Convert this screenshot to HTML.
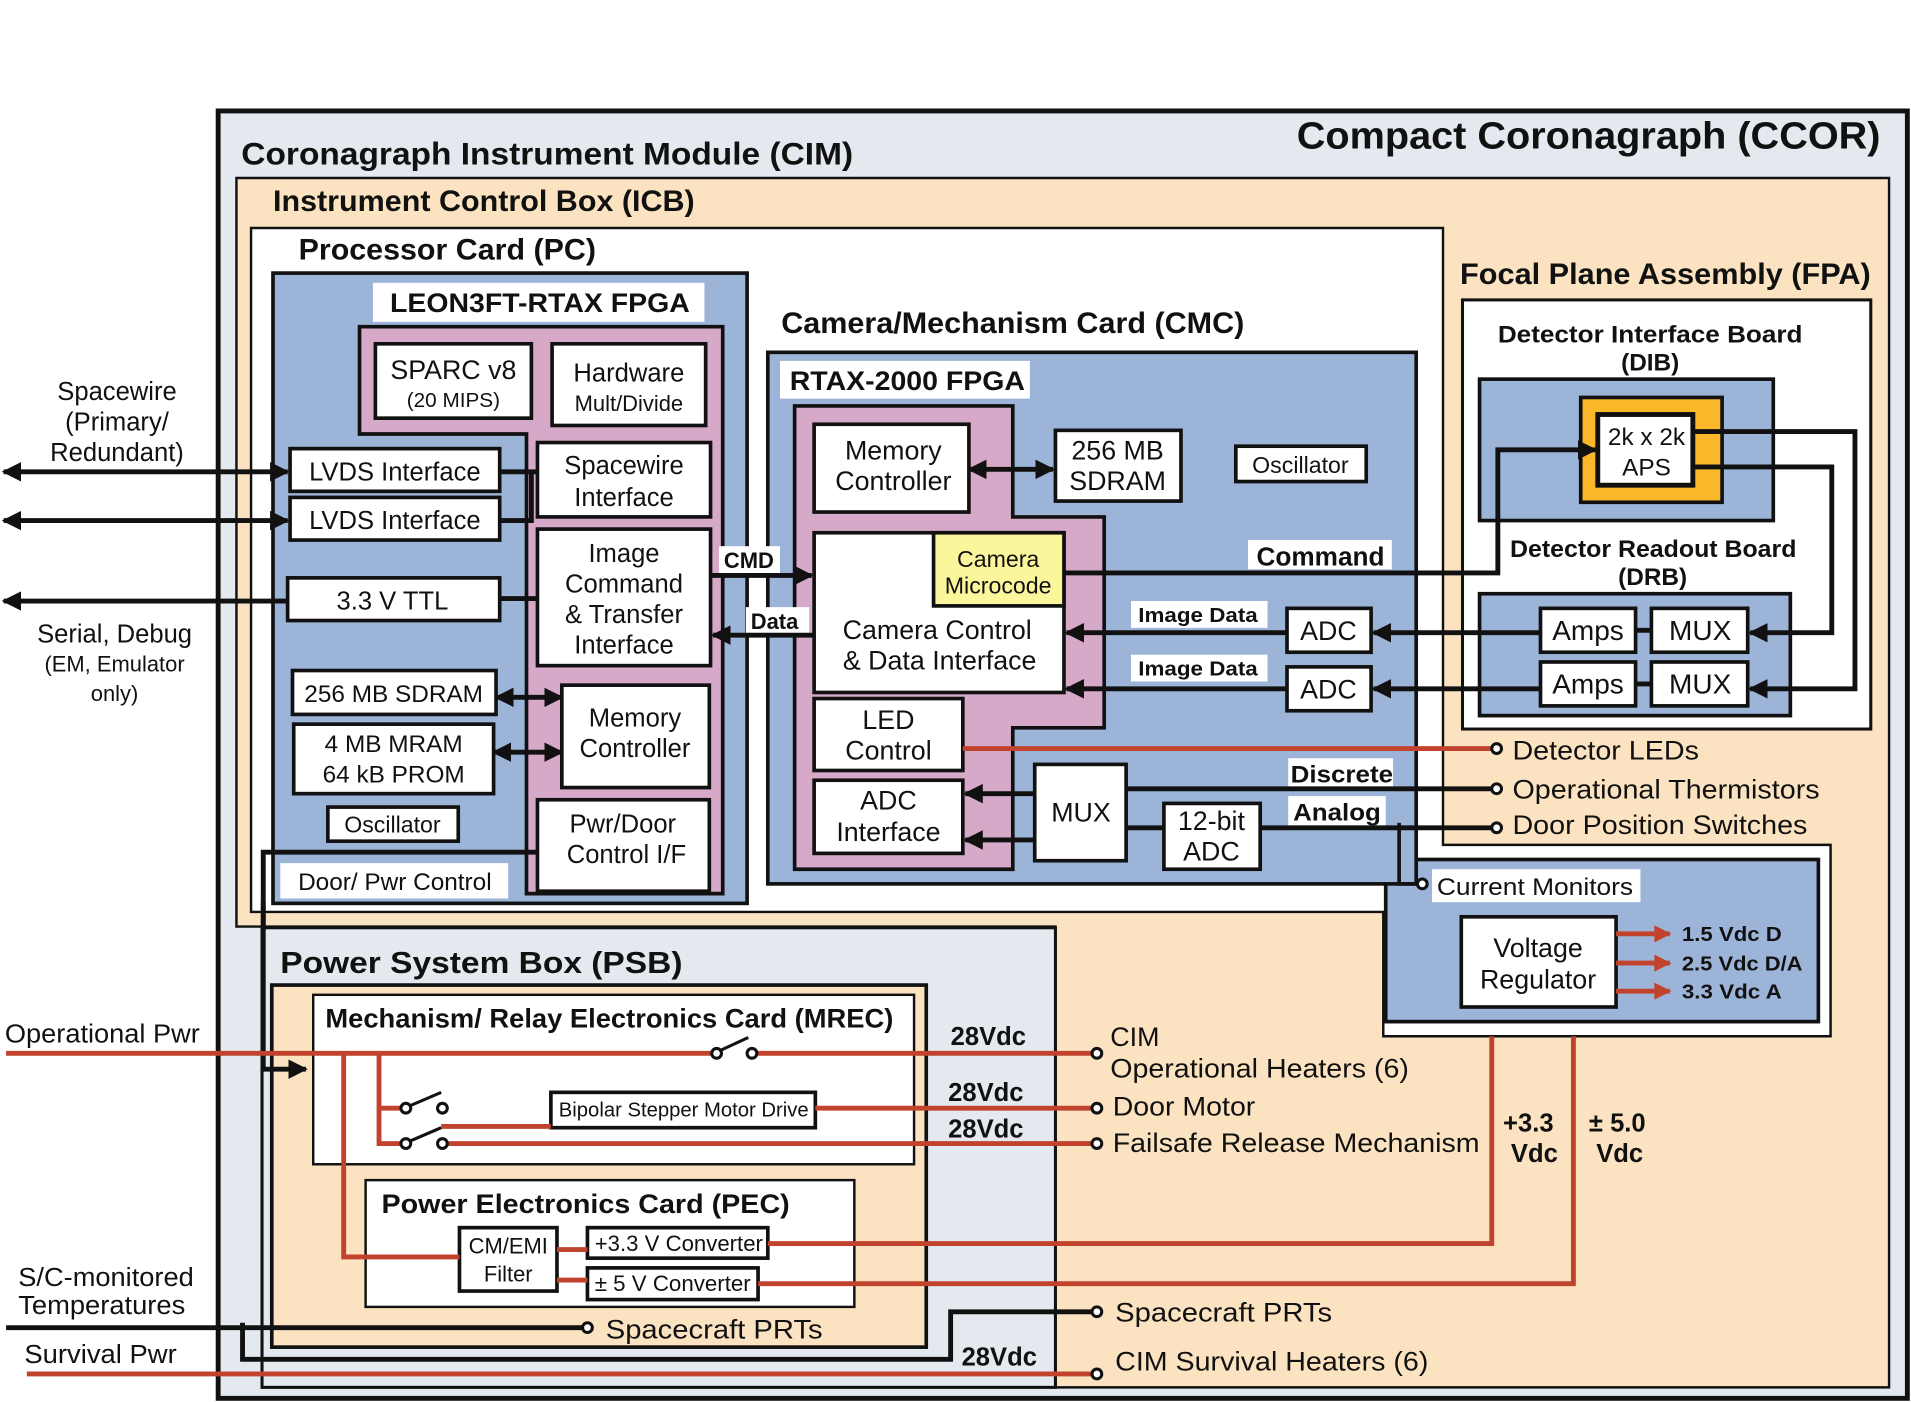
<!DOCTYPE html>
<html><head><meta charset="utf-8"><style>
html,body{margin:0;padding:0;background:#fff}
svg{display:block}
text{font-family:"Liberation Sans",sans-serif;fill:#111}
.b{font-weight:bold}
</style></head><body>
<svg width="1911" height="1402" viewBox="0 0 1568 1150" preserveAspectRatio="none" xmlns="http://www.w3.org/2000/svg">
<defs>
<marker id="ab" viewBox="0 0 10 10" refX="9" refY="5" markerWidth="4" markerHeight="4" orient="auto-start-reverse"><path d="M0,0 L10,5 L0,10 z" fill="#111"/></marker>
<marker id="ar" viewBox="0 0 10 10" refX="9" refY="5" markerWidth="4.5" markerHeight="3.5" orient="auto"><path d="M0,0 L10,5 L0,10 z" fill="#c1432e"/></marker>
</defs>
<rect width="1568" height="1150" fill="#fff"/>
<rect x="179" y="91" width="1386" height="1056" fill="#e3e9ef" stroke="#111" stroke-width="4"/>
<text x="1064" y="122" class="b" font-size="31" textLength="479" lengthAdjust="spacingAndGlyphs">Compact Coronagraph (CCOR)</text>
<text x="198" y="135" class="b" font-size="26" textLength="502" lengthAdjust="spacingAndGlyphs">Coronagraph Instrument Module (CIM)</text>
<polygon points="194,146 1550,146 1550,1138 866,1138 866,760 194,760" fill="#fbe3c1" stroke="#111" stroke-width="2"/>
<text x="224" y="173" class="b" font-size="24" textLength="346" lengthAdjust="spacingAndGlyphs">Instrument Control Box (ICB)</text>
<polygon points="206,187 1184,187 1184,693 1502,693 1502,850 1135,850 1135,748 206,748" fill="#fff" stroke="#111" stroke-width="2"/>
<text x="245" y="213" class="b" font-size="24" textLength="244" lengthAdjust="spacingAndGlyphs">Processor Card (PC)</text>
<text x="641" y="273" class="b" font-size="24" textLength="380" lengthAdjust="spacingAndGlyphs">Camera/Mechanism Card (CMC)</text>
<text x="1198" y="233" class="b" font-size="24" textLength="337" lengthAdjust="spacingAndGlyphs">Focal Plane Assembly (FPA)</text>
<rect x="1200" y="246" width="335" height="352" fill="#fff" stroke="#111" stroke-width="2.5"/>
<text x="1229" y="281" class="b" font-size="20" textLength="250" lengthAdjust="spacingAndGlyphs">Detector Interface Board</text>
<text x="1354" y="304" text-anchor="middle" class="b" font-size="20">(DIB)</text>
<rect x="1214" y="311" width="241" height="116" fill="#9db4d9" stroke="#111" stroke-width="3"/>
<rect x="1297" y="326" width="116" height="86" fill="#f8b82a" stroke="#111" stroke-width="3"/>
<rect x="1311" y="340" width="78" height="58" fill="#fff" stroke="#111" stroke-width="4"/>
<text x="1351" y="365" text-anchor="middle" font-size="20">2k x 2k</text>
<text x="1351" y="390" text-anchor="middle" font-size="20">APS</text>
<text x="1239" y="457" class="b" font-size="20" textLength="235" lengthAdjust="spacingAndGlyphs">Detector Readout Board</text>
<text x="1356" y="480" text-anchor="middle" class="b" font-size="20">(DRB)</text>
<rect x="1214" y="487" width="255" height="100" fill="#9db4d9" stroke="#111" stroke-width="3"/>
<g fill="#fff" stroke="#111" stroke-width="3">
<rect x="1264" y="499" width="78" height="36"/><rect x="1264" y="543" width="78" height="36"/>
<rect x="1355" y="499" width="79" height="36"/><rect x="1355" y="543" width="79" height="36"/>
</g>
<g font-size="23" text-anchor="middle"><text x="1303" y="525">Amps</text><text x="1303" y="569">Amps</text><text x="1395" y="525">MUX</text><text x="1395" y="569">MUX</text></g>
<rect x="1137" y="705" width="355" height="133" fill="#9db4d9" stroke="#111" stroke-width="3"/>
<rect x="1199" y="752" width="127" height="74" fill="#fff" stroke="#111" stroke-width="3"/>
<text x="1262" y="785" text-anchor="middle" font-size="22">Voltage</text>
<text x="1262" y="811" text-anchor="middle" font-size="22">Regulator</text>
<g stroke="#c1432e" stroke-width="4"><line x1="1326" y1="766" x2="1370" y2="766" marker-end="url(#ar)"/><line x1="1326" y1="790" x2="1370" y2="790" marker-end="url(#ar)"/><line x1="1326" y1="813" x2="1370" y2="813" marker-end="url(#ar)"/></g>
<g class="b" font-size="17"><text x="1380" y="772" textLength="82" lengthAdjust="spacingAndGlyphs">1.5 Vdc D</text><text x="1380" y="796" textLength="99" lengthAdjust="spacingAndGlyphs">2.5 Vdc D/A</text><text x="1380" y="819" textLength="82" lengthAdjust="spacingAndGlyphs">3.3 Vdc A</text></g>
<rect x="1175" y="713" width="171" height="27" fill="#fff"/>
<text x="1179" y="734" font-size="20" textLength="161" lengthAdjust="spacingAndGlyphs">Current Monitors</text>
<rect x="224" y="224" width="389" height="517" fill="#9db4d9" stroke="#111" stroke-width="3"/>
<rect x="306" y="232" width="272" height="32" fill="#fff"/>
<text x="320" y="256" class="b" font-size="22" textLength="246" lengthAdjust="spacingAndGlyphs">LEON3FT-RTAX FPGA</text>
<polygon points="295,268 593,268 593,733 432,733 432,356 295,356" fill="#d7a9c9" stroke="#111" stroke-width="3"/>
<g fill="#fff" stroke="#111" stroke-width="3">
<rect x="308" y="282" width="128" height="61"/><rect x="453" y="282" width="126" height="67"/>
<rect x="238" y="368" width="172" height="35"/><rect x="238" y="408" width="172" height="35"/>
<rect x="441" y="363" width="142" height="61"/><rect x="441" y="434" width="142" height="112"/>
<rect x="236" y="474" width="174" height="35"/>
<rect x="240" y="550" width="167" height="36"/><rect x="241" y="594" width="164" height="57"/>
<rect x="461" y="562" width="121" height="84"/>
<rect x="269" y="662" width="107" height="28"/>
<rect x="441" y="656" width="141" height="75"/>
</g>
<rect x="230" y="708" width="187" height="29" fill="#fff"/>
<g font-size="21" text-anchor="middle">
<text x="372" y="311" font-size="22">SPARC v8</text><text x="372" y="334" font-size="17">(20 MIPS)</text>
<text x="516" y="313">Hardware</text><text x="516" y="337" font-size="18">Mult/Divide</text>
<text x="324" y="394">LVDS Interface</text><text x="324" y="434">LVDS Interface</text>
<text x="512" y="389">Spacewire</text><text x="512" y="415">Interface</text>
<text x="512" y="461">Image</text><text x="512" y="486">Command</text><text x="512" y="511">&amp; Transfer</text><text x="512" y="536">Interface</text>
<text x="322" y="500">3.3 V TTL</text>
<text x="323" y="576" font-size="20">256 MB SDRAM</text>
<text x="323" y="617" font-size="20">4 MB MRAM</text><text x="323" y="642" font-size="20">64 kB PROM</text>
<text x="521" y="596">Memory</text><text x="521" y="621">Controller</text>
<text x="322" y="683" font-size="19">Oscillator</text>
<text x="511" y="683">Pwr/Door</text><text x="514" y="708">Control I/F</text>
<text x="324" y="730" font-size="20">Door/ Pwr Control</text>
</g>
<rect x="630" y="289" width="532" height="436" fill="#9db4d9" stroke="#111" stroke-width="3"/>
<rect x="640" y="296" width="205" height="31" fill="#fff"/>
<text x="648" y="320" class="b" font-size="22" textLength="193" lengthAdjust="spacingAndGlyphs">RTAX-2000 FPGA</text>
<polygon points="652,333 831,333 831,424 906,424 906,597 831,597 831,713 652,713" fill="#d7a9c9" stroke="#111" stroke-width="3"/>
<g fill="#fff" stroke="#111" stroke-width="3">
<rect x="668" y="348" width="127" height="72"/><rect x="866" y="353" width="103" height="58"/>
<rect x="1014" y="366" width="107" height="29"/>
<rect x="668" y="437" width="205" height="131"/>
<rect x="766" y="437" width="107" height="60" fill="#fbf59b"/>
<rect x="668" y="573" width="122" height="59"/><rect x="668" y="640" width="122" height="60"/>
<rect x="849" y="627" width="75" height="79"/><rect x="955" y="659" width="79" height="54"/>
<rect x="1056" y="499" width="69" height="36"/><rect x="1056" y="547" width="69" height="36"/>
</g>
<g font-size="22" text-anchor="middle">
<text x="733" y="377">Memory</text><text x="733" y="402">Controller</text>
<text x="917" y="377">256 MB</text><text x="917" y="402">SDRAM</text>
<text x="1067" y="388" font-size="19">Oscillator</text>
<text x="819" y="465" font-size="19">Camera</text><text x="819" y="487" font-size="19">Microcode</text>
<text x="769" y="524">Camera Control</text><text x="771" y="549">&amp; Data Interface</text>
<text x="729" y="598">LED</text><text x="729" y="623">Control</text>
<text x="729" y="664">ADC</text><text x="729" y="690">Interface</text>
<text x="887" y="674">MUX</text>
<text x="994" y="681">12-bit</text><text x="994" y="706">ADC</text>
<text x="1090" y="525">ADC</text><text x="1090" y="573">ADC</text>
</g>
<g fill="#fff"><rect x="1024" y="443" width="118" height="24"/><rect x="928" y="493" width="112" height="22"/><rect x="928" y="537" width="112" height="22"/><rect x="1057" y="622" width="86" height="23"/><rect x="1057" y="653" width="80" height="24"/><rect x="590" y="448" width="50" height="22"/><rect x="612" y="498" width="52" height="22"/></g>
<g class="b"><text x="1031" y="464" font-size="21" textLength="105" lengthAdjust="spacingAndGlyphs">Command</text><text x="934" y="510" font-size="17" textLength="98" lengthAdjust="spacingAndGlyphs">Image Data</text><text x="934" y="554" font-size="17" textLength="98" lengthAdjust="spacingAndGlyphs">Image Data</text><text x="1059" y="642" font-size="20" textLength="84" lengthAdjust="spacingAndGlyphs">Discrete</text><text x="1061" y="673" font-size="20" textLength="72" lengthAdjust="spacingAndGlyphs">Analog</text><text x="594" y="466" font-size="18">CMD</text><text x="616" y="516" font-size="18">Data</text></g>
<g stroke="#111" stroke-width="4" fill="none">
<line x1="3" y1="387" x2="236" y2="387" marker-start="url(#ab)" marker-end="url(#ab)"/>
<line x1="3" y1="427" x2="236" y2="427" marker-start="url(#ab)" marker-end="url(#ab)"/>
<line x1="236" y1="493" x2="3" y2="493" marker-end="url(#ab)"/>
<line x1="410" y1="387" x2="441" y2="387"/><polyline points="410,427 436,427 436,387"/>
<line x1="410" y1="491" x2="441" y2="491"/>
<line x1="407" y1="572" x2="461" y2="572" marker-start="url(#ab)" marker-end="url(#ab)"/>
<line x1="405" y1="617" x2="461" y2="617" marker-start="url(#ab)" marker-end="url(#ab)"/>
<line x1="583" y1="472" x2="666" y2="472" marker-end="url(#ab)"/>
<line x1="668" y1="521" x2="585" y2="521" marker-end="url(#ab)"/>
<line x1="795" y1="385" x2="864" y2="385" marker-start="url(#ab)" marker-end="url(#ab)"/>
<polyline points="873,470 1229,470 1229,369 1309,369" marker-end="url(#ab)"/>
<polyline points="1389,354 1522,354 1522,565 1436,565" marker-end="url(#ab)"/>
<polyline points="1389,383 1503,383 1503,519 1436,519" marker-end="url(#ab)"/>
<line x1="1342" y1="517" x2="1355" y2="517"/><line x1="1342" y1="561" x2="1355" y2="561"/>
<line x1="1264" y1="519" x2="1127" y2="519" marker-end="url(#ab)"/>
<line x1="1264" y1="565" x2="1127" y2="565" marker-end="url(#ab)"/>
<line x1="1056" y1="519" x2="875" y2="519" marker-end="url(#ab)"/>
<line x1="1056" y1="565" x2="875" y2="565" marker-end="url(#ab)"/>
<line x1="849" y1="651" x2="792" y2="651" marker-end="url(#ab)"/>
<line x1="849" y1="689" x2="792" y2="689" marker-end="url(#ab)"/>
<line x1="924" y1="679" x2="955" y2="679"/>
<line x1="924" y1="647" x2="1224" y2="647"/>
<line x1="1034" y1="679" x2="1224" y2="679"/>
<polyline points="1148,675 1148,725 1163,725" stroke-width="3"/>
<polyline points="441,699 216,699 216,760"/>
</g>
<rect x="215" y="761" width="651" height="377" fill="#e3e9ef" stroke="#111" stroke-width="2.5"/>
<text x="230" y="798" class="b" font-size="25" textLength="330" lengthAdjust="spacingAndGlyphs">Power System Box (PSB)</text>
<rect x="223" y="808" width="537" height="297" fill="#fbe3c1" stroke="#111" stroke-width="3"/>
<rect x="257" y="816" width="493" height="139" fill="#fff" stroke="#111" stroke-width="2"/>
<text x="267" y="843" class="b" font-size="22" textLength="466" lengthAdjust="spacingAndGlyphs">Mechanism/ Relay Electronics Card (MREC)</text>
<rect x="300" y="968" width="401" height="104" fill="#fff" stroke="#111" stroke-width="2"/>
<text x="313" y="995" class="b" font-size="22" textLength="335" lengthAdjust="spacingAndGlyphs">Power Electronics Card (PEC)</text>
<g fill="#fff" stroke="#111" stroke-width="3">
<rect x="452" y="896" width="217" height="29"/>
<rect x="377" y="1007" width="80" height="52"/><rect x="482" y="1007" width="148" height="25"/><rect x="482" y="1040" width="140" height="26"/>
</g>
<g font-size="17" text-anchor="middle"><text x="561" y="916" textLength="205" lengthAdjust="spacingAndGlyphs">Bipolar Stepper Motor Drive</text><text x="417" y="1028" font-size="18">CM/EMI</text><text x="417" y="1051" font-size="18">Filter</text><text x="557" y="1026" font-size="18" textLength="138" lengthAdjust="spacingAndGlyphs">+3.3 V Converter</text><text x="552" y="1059" font-size="18" textLength="128" lengthAdjust="spacingAndGlyphs">± 5 V Converter</text></g>
<g stroke="#111" stroke-width="4" fill="none">
<polyline points="216,740 216,877 251,877" marker-end="url(#ab)"/>
<line x1="5" y1="1089" x2="478" y2="1089"/>
<polyline points="199,1085 199,1115 780,1115 780,1076 896,1076"/>
</g>
<g stroke="#c1432e" stroke-width="4" fill="none">
<line x1="790" y1="614" x2="1224" y2="614"/>
<line x1="5" y1="864" x2="585" y2="864"/>
<line x1="620" y1="864" x2="896" y2="864"/>
<polyline points="282,864 282,1031 377,1031"/>
<polyline points="311,864 311,938 330,938"/>
<line x1="311" y1="909" x2="330" y2="909"/>
<line x1="362" y1="924" x2="452" y2="924"/>
<line x1="669" y1="909" x2="896" y2="909"/>
<line x1="362" y1="938" x2="896" y2="938"/>
<line x1="457" y1="1025" x2="482" y2="1025"/><line x1="457" y1="1050" x2="482" y2="1050"/>
<polyline points="630,1020 1224,1020 1224,850"/>
<polyline points="622,1053 1291,1053 1291,850"/>
<line x1="22" y1="1127" x2="896" y2="1127"/>
</g>
<g stroke="#111" stroke-width="2.5" fill="#fff">
<line x1="588" y1="863" x2="614" y2="851"/><line x1="334" y1="908" x2="362" y2="896"/><line x1="334" y1="937" x2="362" y2="925"/>
<circle cx="588" cy="864" r="4"/><circle cx="617" cy="864" r="4"/>
<circle cx="333" cy="909" r="4"/><circle cx="363" cy="909" r="4"/>
<circle cx="333" cy="938" r="4"/><circle cx="363" cy="938" r="4"/>
<circle cx="1228" cy="614" r="4"/><circle cx="1228" cy="647" r="4"/><circle cx="1228" cy="679" r="4"/><circle cx="1167" cy="725" r="4"/>
<circle cx="900" cy="864" r="4"/><circle cx="900" cy="909" r="4"/><circle cx="900" cy="938" r="4"/>
<circle cx="482" cy="1089" r="4"/><circle cx="900" cy="1076" r="4"/><circle cx="900" cy="1127" r="4"/>
</g>
<g font-size="22">
<text x="1241" y="623" textLength="153" lengthAdjust="spacingAndGlyphs">Detector LEDs</text><text x="1241" y="655" textLength="252" lengthAdjust="spacingAndGlyphs">Operational Thermistors</text><text x="1241" y="684" textLength="242" lengthAdjust="spacingAndGlyphs">Door Position Switches</text>
<text x="911" y="858">CIM</text><text x="911" y="884" textLength="245" lengthAdjust="spacingAndGlyphs">Operational Heaters (6)</text>
<text x="913" y="915" textLength="117" lengthAdjust="spacingAndGlyphs">Door Motor</text><text x="913" y="945" textLength="301" lengthAdjust="spacingAndGlyphs">Failsafe Release Mechanism</text>
<text x="497" y="1098" textLength="178" lengthAdjust="spacingAndGlyphs">Spacecraft PRTs</text><text x="915" y="1084" textLength="178" lengthAdjust="spacingAndGlyphs">Spacecraft PRTs</text><text x="915" y="1124" textLength="257" lengthAdjust="spacingAndGlyphs">CIM Survival Heaters (6)</text>
</g>
<g class="b" font-size="21">
<text x="780" y="857">28Vdc</text><text x="778" y="903">28Vdc</text><text x="778" y="933">28Vdc</text><text x="789" y="1120">28Vdc</text>
<text x="1254" y="928" text-anchor="middle">+3.3</text><text x="1259" y="953" text-anchor="middle">Vdc</text>
<text x="1327" y="928" text-anchor="middle">± 5.0</text><text x="1329" y="953" text-anchor="middle">Vdc</text>
</g>
<g font-size="21" text-anchor="middle">
<text x="96" y="328">Spacewire</text><text x="96" y="353">(Primary/</text><text x="96" y="378">Redundant)</text>
<text x="94" y="527">Serial, Debug</text><text x="94" y="551" font-size="18">(EM, Emulator</text><text x="94" y="575" font-size="18">only)</text>
</g>
<g font-size="21">
<text x="4" y="855" textLength="160" lengthAdjust="spacingAndGlyphs">Operational Pwr</text>
<text x="15" y="1055" textLength="144" lengthAdjust="spacingAndGlyphs">S/C-monitored</text><text x="15" y="1078" textLength="137" lengthAdjust="spacingAndGlyphs">Temperatures</text>
<text x="20" y="1118" textLength="125" lengthAdjust="spacingAndGlyphs">Survival Pwr</text>
</g>
</svg>
</body></html>
